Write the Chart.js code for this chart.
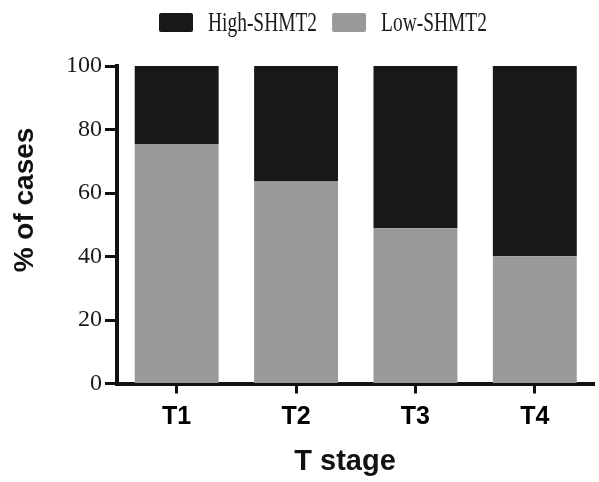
<!DOCTYPE html>
<html>
<head>
<meta charset="utf-8">
<script src="https://cdn.jsdelivr.net/npm/chart.js@4.4.0/dist/chart.umd.min.js"></script>
<style>
  html, body { margin: 0; padding: 0; background: #fffffd; }
</style>
</head>
<body>
<canvas id="myChart" width="599" height="482"></canvas>
<script>
// data
const stages = ['T1', 'T2', 'T3', 'T4'];
const lowShmt2 = [75.4, 63.6, 48.9, 40.1];
const highShmt2 = [24.6, 36.4, 51.1, 59.9];
const yTicks = [0, 20, 40, 60, 80, 100];

const black = '#181818';
const gray = '#999999';

// titles + the condensed-looking legend at the top
const extras = {
    id: 'extras',
    beforeDraw(chart) {
        const ctx = chart.ctx;
        ctx.save();
        ctx.fillStyle = '#fffffd';
        ctx.fillRect(0, 0, chart.width, chart.height);
        ctx.restore();
    },
    afterDraw(chart) {
        const ctx = chart.ctx;
        ctx.save();
        ctx.fillStyle = '#111111';
        ctx.font = 'bold 28px "Liberation Sans", Arial, sans-serif';
        ctx.textAlign = 'center';
        ctx.textBaseline = 'alphabetic';
        ctx.translate(33, 200);
        ctx.rotate(-Math.PI / 2);
        ctx.fillText('% of cases', 0, 0);
        ctx.restore();

        ctx.save();
        ctx.fillStyle = '#111111';
        ctx.font = 'bold 29px "Liberation Sans", Arial, sans-serif';
        ctx.textAlign = 'center';
        ctx.textBaseline = 'alphabetic';
        ctx.fillText('T stage', 345, 470);
        ctx.restore();

        // legend: High first, then Low
        const items = [chart.data.datasets[1], chart.data.datasets[0]];
        let x = 159;
        ctx.save();
        ctx.font = '27px "Liberation Serif", "Times New Roman", serif';
        ctx.textBaseline = 'alphabetic';
        ctx.textAlign = 'left';
        items.forEach(ds => {
            ctx.fillStyle = ds.backgroundColor;
            ctx.beginPath();
            ctx.roundRect(x, 13, 34, 19, 2);
            ctx.fill();
            const tx = x + 49;
            const w = ctx.measureText(ds.label).width * 0.72;
            ctx.save();
            ctx.fillStyle = '#1a1a1a';
            ctx.translate(tx, 31);
            ctx.scale(0.72, 1);
            ctx.fillText(ds.label, 0, 0);
            ctx.restore();
            x = tx + w + 15;
        });
        ctx.restore();
    }
};

const ctx = document.getElementById('myChart').getContext('2d');

const myChart = new Chart(ctx, {
    type: 'bar',
    data: {
        labels: stages,
        datasets: [
            {
                label: 'Low-SHMT2',
                data: lowShmt2,
                backgroundColor: gray,
                borderWidth: 0,
                barPercentage: 0.703,
                categoryPercentage: 1,
            },
            {
                label: 'High-SHMT2',
                data: highShmt2,
                backgroundColor: black,
                borderWidth: 0,
                barPercentage: 0.703,
                categoryPercentage: 1,
            },
        ],
    },
    options: {
        responsive: false,
        animation: false,
        layout: {
            padding: { top: 66, left: 0, right: 4.5, bottom: 0 },
        },
        plugins: {
            legend: { display: false },
            tooltip: { enabled: false },
        },
        scales: {
            x: {
                stacked: true,
                afterFit: (scale) => { scale.height = 98.5; },
                grid: {
                    offset: false,
                    drawOnChartArea: false,
                    tickLength: 10,
                    tickWidth: 3,
                    tickColor: '#111111',
                },
                border: { color: '#111111', width: 4 },
                ticks: {
                    padding: 9,
                    color: '#000000',
                    font: { family: '"Liberation Sans", Arial, sans-serif', size: 25, weight: 'bold' },
                },
            },
            y: {
                stacked: true,
                min: 0,
                max: 100,
                afterFit: (scale) => { scale.width = 117; },
                afterBuildTicks: (scale) => { scale.ticks = yTicks.map(v => ({ value: v })); },
                grid: {
                    drawOnChartArea: false,
                    tickLength: 12,
                    tickWidth: 3,
                    tickColor: '#111111',
                },
                border: { color: '#111111', width: 4 },
                ticks: {
                    padding: 3,
                    color: '#1a1a1a',
                    font: { family: '"Liberation Serif", "Times New Roman", serif', size: 24 },
                },
            },
        },
    },
    plugins: [extras],
});
</script>
</body>
</html>
